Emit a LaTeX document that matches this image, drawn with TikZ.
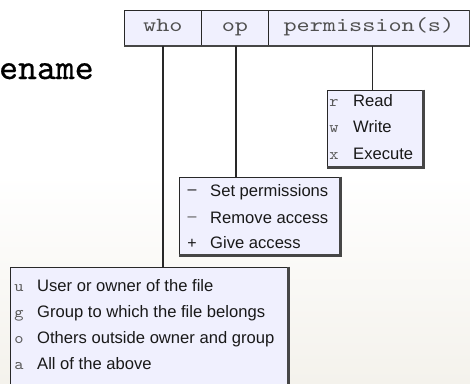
\documentclass[tikz,border=0pt]{standalone}
\usepackage{fontspec}
\setmainfont{Liberation Sans}
\newfontfamily\cour{lmmono10-regular}[Extension=.otf, FakeBold=0.6]
\newfontfamily\courhd{lmmono10-regular}[Extension=.otf, FakeStretch=1.25]
\newfontfamily\courpf{lmmono10-regular}[Extension=.otf, FakeStretch=1.1]
\definecolor{lav}{RGB}{240,240,254}
\definecolor{edge}{RGB}{40,40,40}
\definecolor{shad}{RGB}{70,70,70}
\definecolor{hdtext}{RGB}{80,80,80}
\definecolor{itemtext}{RGB}{25,25,25}
\definecolor{preftext}{RGB}{90,90,90}
\definecolor{bgbot}{RGB}{244,242,236}
\begin{document}
\begin{tikzpicture}[x=1pt,y=-1pt,
  boxfill/.style={fill=lav, draw=edge, line width=0.8pt},
  cell/.style={boxfill, minimum height=35pt, inner sep=0pt, anchor=north west,
     text height=11pt, text depth=4pt,
     font=\courhd\fontsize{20}{20}\selectfont, text=hdtext},
  listbox/.style={boxfill, inner sep=0pt},
  shadowline/.style={draw=shad, line width=2.4pt},
  conn/.style={draw=edge, line width=1.8pt},
  item/.style={anchor=west, inner sep=0pt, text height=12pt, text depth=3pt,
     font=\fontsize{16.6}{16.6}\selectfont, text=itemtext},
  pref/.style={anchor=center, inner sep=0pt, text height=7pt, text depth=0pt,
     font=\courpf\fontsize{16}{16}\selectfont, text=preftext},
  sym/.style={anchor=center, inner sep=0pt, font=\fontsize{16}{16}\selectfont, text=itemtext},
]
\useasboundingbox (0,0) rectangle (470,383);
\clip (0,0) rectangle (470,383);
\fill[white] (0,0) rectangle (470,383);
\shade[top color=white, bottom color=bgbot] (0,175) rectangle (470,383);

% partial file name
\node[anchor=base west, inner sep=0pt, font=\cour\fontsize{36}{36}\selectfont, text=black] (fname) at (-1,79) {ename};

% header
\node[cell, minimum width=77pt] (who) at (124,10) {who};
\node[cell, minimum width=67pt] (op) at (201,10) {op};
\node[cell, minimum width=201pt] (perm) at (268,10) {permission(s)};
\draw[shadowline] (who.south west) -- (perm.south east) -- (perm.north east);

% permission box
\node[listbox, minimum width=96pt, minimum height=77pt] (rbox) at (375,128.5) {};
\draw[shadowline] (rbox.north east) -- (rbox.south east) -- (rbox.south west);
\node[pref] (rp) at (334,102.5) {r};
\node[item] (rt) at (353,102) {Read};
\node[pref] (wp) at (334,128.5) {w};
\node[item] (wt) at (353,128) {Write};
\node[pref] (xp) at (334,155.5) {x};
\node[item] (xt) at (353,155) {Execute};

% operator box
\node[listbox, minimum width=161pt, minimum height=78pt] (obox) at (259.5,216) {};
\draw[shadowline] (obox.north east) -- (obox.south east) -- (obox.south west);
\node[sym] (s1) at (192,192) {\textendash};
\node[item] (t1) at (210,192) {Set permissions};
\node[sym, text=preftext] (s2) at (192,219) {\textendash};
\node[item] (t2) at (210,219) {Remove access};
\node[sym] (s3) at (192,244) {+};
\node[item] (t3) at (210,244) {Give access};

% who box
\node[listbox, minimum width=278pt, minimum height=133pt] (ubox) at (149,333.5) {};
\draw[shadowline] (ubox.north east) -- (ubox.south east);
\node[pref] (up) at (19,287.5) {u};
\node[item] (ut) at (37,287) {User or owner of the file};
\node[pref] (gp) at (19,313.5) {g};
\node[item] (gt) at (37,313) {Group to which the file belongs};
\node[pref] (opf) at (19,339.5) {o};
\node[item] (ot) at (37,339) {Others outside owner and group};
\node[pref] (ap) at (19,365.5) {a};
\node[item] (at) at (37,365) {All of the above};

% connectors
\draw[conn] (who.south) -- (who.south |- ubox.north);
\draw[conn] ([xshift=1pt]op.south) -- ([xshift=1pt]op.south |- obox.north);
\draw[conn] ([xshift=3.5pt]perm.south) -- ([xshift=3.5pt]perm.south |- rbox.north);
\end{tikzpicture}
\end{document}
